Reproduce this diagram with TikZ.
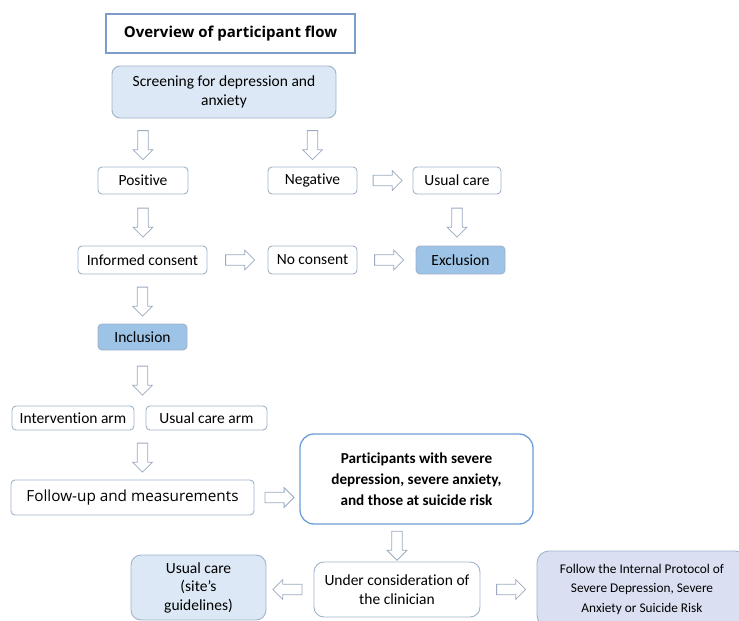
\documentclass[tikz,border=0pt]{standalone}
\usepackage{fontspec}
\setmainfont{Carlito}[Ligatures=NoCommon]
\newfontfamily\headfont{Open Sans}
\usepackage{tikz}
\usetikzlibrary{
    shapes.arrows,
    positioning
}
\definecolor{boxline}{HTML}{9FB3CB}
\definecolor{titleline}{HTML}{7C9CCB}
\definecolor{partline}{HTML}{6C9FD8}
\definecolor{softblue}{HTML}{DCE8F5}
\definecolor{midblue}{HTML}{9DC3E6}
\definecolor{lavender}{HTML}{DAE0F2}
\definecolor{arrowline}{HTML}{9AAAC0}
\tikzset{
    box/.style={
        draw=boxline,
        line width=0.9pt,
        fill=white,
        rounded corners=4pt,
        align=center,
        inner sep=2pt,
        font=\fontsize{15.5}{18.5}\selectfont
    },
    smallbox/.style={
        box,
        minimum width=#1,
        minimum height=27pt
    },
    flow/.style={
        single arrow,
        draw=arrowline,
        fill=white,
        line width=0.8pt,
        inner xsep=0pt,
        inner ysep=4.8pt,
        minimum height=29pt,
        minimum width=19pt,
        single arrow head extend=4.7pt,
        midway,
        sloped,
        allow upside down
    }
}

\begin{document}
\begin{tikzpicture}[
    x=1pt,
    y=-1pt
]
    \useasboundingbox (0,0) rectangle (739,621);

    % Boxes
    \node[draw=titleline, line width=1.4pt, minimum width=249pt, minimum height=39pt,
        font=\headfont\bfseries\fontsize{15}{18}\selectfont] (title) at (230.5,33.5) {Overview of participant flow};
    \node[box, fill=softblue, rounded corners=8pt, minimum width=224pt, minimum height=52pt]
        (screen) at (224,92) {Screening for depression and\\anxiety};

    \node[smallbox=90pt] (pos) at (143,180.5) {Positive};
    \node[smallbox=89pt] (neg) at (312.5,180.5) {Negative};
    \node[smallbox=88pt] (uc) at (457,180.5) {Usual care};

    \node[smallbox=129pt, minimum height=28pt] (ic) at (142.5,260) {Informed consent};
    \node[smallbox=89pt, minimum height=28pt] (nc) at (312.5,260) {No consent};
    \node[smallbox=89pt, minimum height=28pt, fill=midblue] (excl) at (460.5,260) {Exclusion};

    \node[smallbox=89pt, minimum height=26pt, fill=midblue] (incl) at (142.5,337) {Inclusion};

    \node[smallbox=122pt, minimum height=24pt] (iarm) at (73,418) {Intervention arm};
    \node[smallbox=121pt, minimum height=24pt] (ucarm) at (206.5,418) {Usual care arm};

    \node[box, minimum width=243pt, minimum height=35pt, font=\headfont\fontsize{15.3}{18}\selectfont]
        (follow) at (132.5,497.5) {Follow-up and measurements};
    \node[box, draw=partline, line width=1.3pt, rounded corners=14pt, minimum width=233pt, minimum height=90pt,
        font=\bfseries\fontsize{15.2}{21}\selectfont]
        (part) at (416.5,479) {Participants with severe\\depression, severe anxiety,\\and those at suicide risk};

    \node[box, rounded corners=10pt, minimum width=166pt, minimum height=55pt]
        (consider) at (397,589.5) {Under consideration of\\the clinician};
    \node[box, fill=softblue, rounded corners=10pt, minimum width=135pt, minimum height=65pt]
        (ucsite) at (198.5,587.5) {Usual care\\(site's\\guidelines)};
    \node[box, fill=lavender, rounded corners=12pt, minimum width=210pt, minimum height=76pt,
        font=\fontsize{13.3}{19.5}\selectfont]
        (proto) at (642,589) {Follow the Internal Protocol of\\Severe Depression, Severe\\Anxiety or Suicide Risk};

    % Arrows
    \path (screen.south -| pos) -- (pos.north) node[flow] {};
    \path (screen.south -| neg) -- (neg.north) node[flow] {};
    \path (neg.east) -- (uc.west) node[flow] {};
    \path (uc.south) -- (uc.south |- excl.north) node[flow] {};
    \path (pos.south) -- (pos.south |- ic.north) node[flow] {};
    \path (ic.east) -- (nc.west) node[flow] {};
    \path (nc.east) -- (excl.west) node[flow] {};
    \path (ic.south) -- (incl.north) node[flow] {};
    \path (incl.south) -- (incl.south |- iarm.north) node[flow] {};
    \path (incl |- iarm.south) -- (incl |- follow.north) node[flow] {};
    \path (follow.east) -- (follow.east -| part.west) node[flow] {};
    \path (part.south -| consider) -- (consider.north) node[flow] {};
    \path (consider.west) -- (consider.west -| ucsite.east) node[flow] {};
    \path (consider.east) -- (consider.east -| proto.west) node[flow] {};

\end{tikzpicture}
\end{document}
